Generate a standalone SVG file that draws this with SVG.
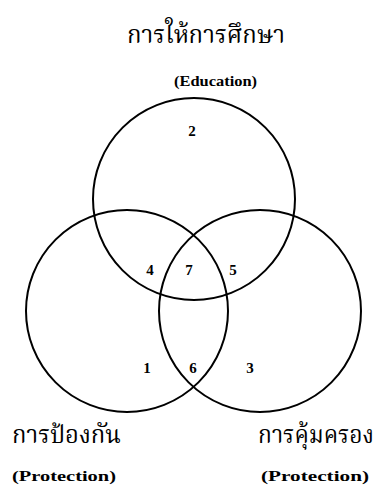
<svg xmlns="http://www.w3.org/2000/svg" width="379" height="489" viewBox="0 0 379 489">
<style>
.c{fill:none;stroke:#000;stroke-width:2}
.th{font-family:"Noto Serif Thai","Norasi","Noto Sans Thai","Garuda","Loma",serif;font-size:24px;fill:#000}
.en{font-family:"Liberation Serif",serif;font-weight:bold;font-size:14px;fill:#000}
.n{font-family:"Liberation Serif",serif;font-weight:bold;font-size:15px;fill:#000;text-anchor:middle}
</style>
<rect width="379" height="489" fill="#fff"/>
<g id="connectors"></g>
<g id="education">
<circle class="c" cx="194" cy="199" r="101"/>
<text class="th" x="127" y="43" textLength="158" lengthAdjust="spacingAndGlyphs">การให้การศึกษา</text>
<text class="en" x="174" y="86" textLength="83" lengthAdjust="spacingAndGlyphs">(Education)</text>
</g>
<g id="prevention">
<circle class="c" cx="127" cy="311" r="101"/>
<text class="th" x="12" y="443" textLength="109" lengthAdjust="spacingAndGlyphs">การป้องกัน</text>
<text class="en" x="12" y="481" textLength="104" lengthAdjust="spacingAndGlyphs">(Protection)</text>
</g>
<g id="protection">
<circle class="c" cx="260" cy="311" r="101"/>
<text class="th" x="258" y="443" textLength="116" lengthAdjust="spacingAndGlyphs">การคุ้มครอง</text>
<text class="en" x="261" y="481" textLength="108" lengthAdjust="spacingAndGlyphs">(Protection)</text>
</g>
<g id="regions">
<text class="n" x="192" y="136">2</text>
<text class="n" x="150" y="275">4</text>
<text class="n" x="189" y="275">7</text>
<text class="n" x="233" y="275">5</text>
<text class="n" x="147" y="373">1</text>
<text class="n" x="193" y="373">6</text>
<text class="n" x="250" y="373">3</text>
</g>
</svg>
